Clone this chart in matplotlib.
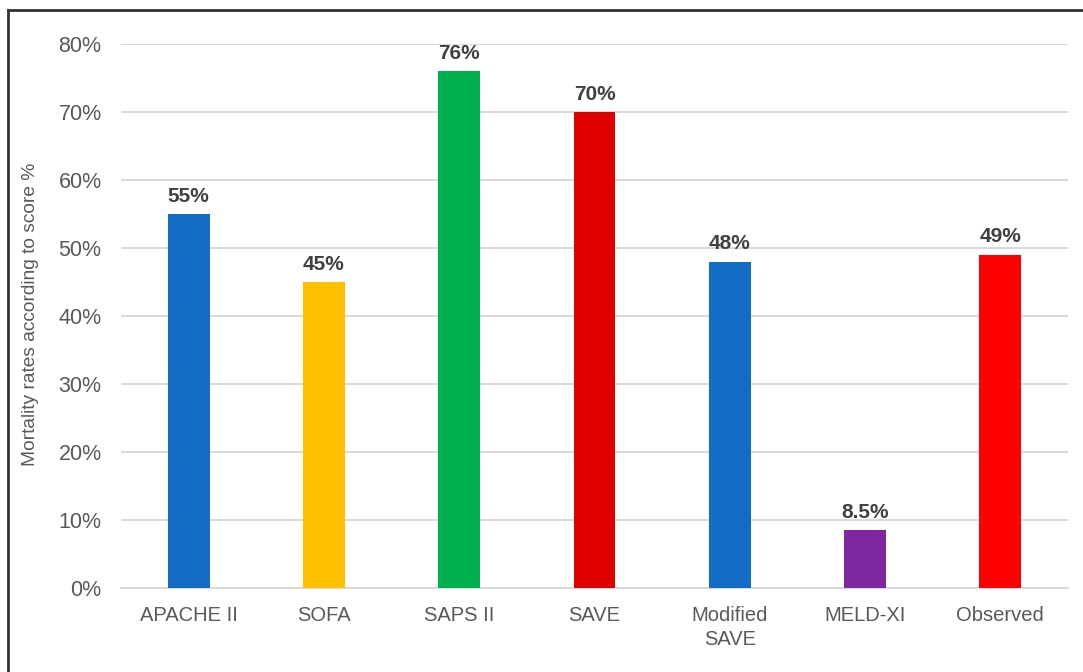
import matplotlib
matplotlib.use("Agg")
import matplotlib.pyplot as plt
from matplotlib.lines import Line2D
from matplotlib.ticker import FuncFormatter

categories = ["APACHE II", "SOFA", "SAPS II", "SAVE", "Modified\nSAVE", "MELD-XI", "Observed"]
mortality = [55, 45, 76, 70, 48, 8.5, 49]
value_labels = ["55%", "45%", "76%", "70%", "48%", "8.5%", "49%"]
bar_colors = ["#156CC6", "#FFC000", "#00B04F", "#DF0000", "#156CC6", "#7F27A0", "#FF0000"]
y_ticks = [0, 10, 20, 30, 40, 50, 60, 70, 80]

plt.rcParams["font.family"] = ["Liberation Sans", "DejaVu Sans"]

fig = plt.figure(figsize=(10.83, 6.72), dpi=100)
ax = fig.add_axes([121 / 1083, 1 - 588 / 672, (1068 - 121) / 1083, (588 - 44) / 672])

x = list(range(len(categories)))
ax.bar(x, mortality, width=0.31, color=bar_colors, zorder=3)

for xi, v, lab in zip(x, mortality, value_labels):
    ax.annotate(lab, (xi, v), xytext=(0, 6), textcoords="offset points",
                ha="center", va="bottom", fontsize=15, fontweight="bold",
                color="#404040")

ax.set_xlim(-0.5, len(categories) - 0.5)
ax.set_ylim(0, 80)
ax.set_yticks(y_ticks)
ax.yaxis.set_major_formatter(FuncFormatter(lambda v, p: f"{v:.0f}%"))
ax.set_xticks(x)
ax.set_xticklabels(categories, fontsize=14.5, color="#595959", linespacing=1.35)
ax.tick_params(axis="y", length=0, pad=14, labelsize=15.5, labelcolor="#595959")
ax.tick_params(axis="x", length=0, pad=13)

ax.grid(axis="y", color="#D9D9D9", linewidth=1.4, zorder=0)
for s in ["top", "right", "left"]:
    ax.spines[s].set_visible(False)
ax.spines["bottom"].set_color("#D9D9D9")
ax.spines["bottom"].set_linewidth(1.4)

fig.text(31 / 1083, 1 - 314 / 672, "Mortality rates according to score %",
         rotation=90, ha="center", va="center", fontsize=13.8, color="#595959")

# frame around the chart area
fig.add_artist(Line2D([8 / 1083, 8 / 1083], [0, 1 - 10 / 672], transform=fig.transFigure,
                      color="#333333", linewidth=2))
fig.add_artist(Line2D([8 / 1083, 1], [1 - 10 / 672, 1 - 10 / 672], transform=fig.transFigure,
                      color="#333333", linewidth=2))

fig.savefig("out.png", dpi=100, facecolor="white")
